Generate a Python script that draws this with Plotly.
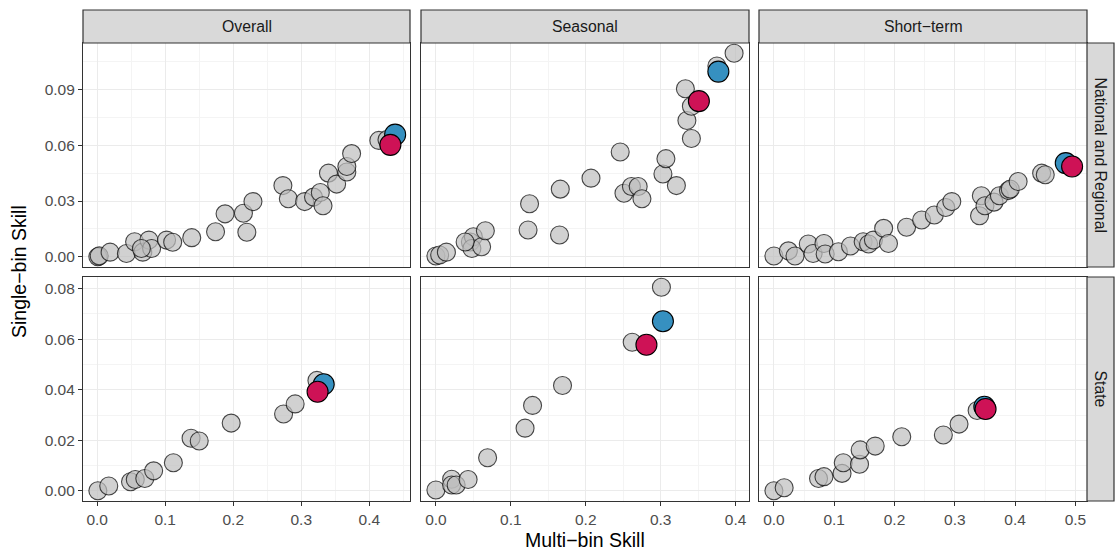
import plotly.graph_objects as go

W, H = 1116, 554

col_labels = ["Overall", "Seasonal", "Short\u2212term"]
row_labels = ["National and Regional", "State"]

# ---- grey points (Multi-bin skill, Single-bin skill) ----
overall_nr_multi = [0.001, 0.003, 0.019, 0.043, 0.055, 0.067, 0.076, 0.080, 0.065, 0.102, 0.111, 0.139, 0.174, 0.188, 0.215,
                    0.220, 0.229, 0.273, 0.281, 0.305, 0.318, 0.328, 0.332, 0.340, 0.352, 0.367, 0.367, 0.374, 0.414, 0.426]
overall_nr_single = [0.000, 0.0005, 0.0025, 0.0018, 0.0081, 0.0025, 0.0090, 0.0045, 0.0045, 0.0090, 0.0078, 0.0103, 0.0135, 0.0231, 0.0234,
                     0.0132, 0.0297, 0.0383, 0.0312, 0.0297, 0.0321, 0.0346, 0.0275, 0.0450, 0.0391, 0.0456, 0.0486, 0.0555, 0.0626, 0.0630]

seasonal_nr_multi = [0.000, 0.005, 0.014, 0.046, 0.050, 0.048, 0.061, 0.066, 0.039, 0.125, 0.123, 0.166, 0.165, 0.207, 0.246,
                     0.251, 0.261, 0.270, 0.275, 0.303, 0.307, 0.321, 0.341, 0.335, 0.333, 0.341, 0.375, 0.398]
seasonal_nr_single = [0.0004, 0.0010, 0.0025, 0.0080, 0.0108, 0.0045, 0.0054, 0.0140, 0.0080, 0.0285, 0.0144, 0.0364, 0.0117, 0.0423, 0.0564,
                      0.0342, 0.0378, 0.0378, 0.0312, 0.0445, 0.0528, 0.0383, 0.0636, 0.0733, 0.0904, 0.0810, 0.1026, 0.1095]

shortterm_nr_multi = [0.000, 0.024, 0.035, 0.057, 0.065, 0.083, 0.085, 0.107, 0.127, 0.148, 0.157, 0.165, 0.182, 0.190, 0.220,
                      0.245, 0.266, 0.285, 0.295, 0.341, 0.344, 0.350, 0.365, 0.374, 0.389, 0.392, 0.405, 0.444, 0.450]
shortterm_nr_single = [0.0004, 0.0032, 0.0004, 0.0069, 0.0018, 0.0072, 0.0015, 0.0027, 0.0058, 0.0081, 0.0069, 0.0090, 0.0153, 0.0072, 0.0159,
                       0.0198, 0.0225, 0.0265, 0.0297, 0.0221, 0.0328, 0.0275, 0.0294, 0.0328, 0.0356, 0.0364, 0.0405, 0.0450, 0.0441]

overall_state_multi = [0.001, 0.017, 0.049, 0.056, 0.070, 0.083, 0.112, 0.138, 0.150, 0.197, 0.274, 0.291, 0.323]
overall_state_single = [0.0000, 0.0019, 0.0036, 0.0045, 0.0049, 0.0079, 0.0111, 0.0208, 0.0197, 0.0268, 0.0304, 0.0344, 0.0437]

seasonal_state_multi = [0.000, 0.021, 0.021, 0.027, 0.043, 0.069, 0.119, 0.129, 0.169, 0.262, 0.301]
seasonal_state_single = [0.0003, 0.0046, 0.0023, 0.0023, 0.0045, 0.0131, 0.0248, 0.0338, 0.0417, 0.0588, 0.0806]

shortterm_state_multi = [0.000, 0.017, 0.074, 0.083, 0.113, 0.115, 0.142, 0.143, 0.168, 0.212, 0.281, 0.307, 0.337]
shortterm_state_single = [0.0000, 0.0012, 0.0049, 0.0056, 0.0069, 0.0111, 0.0105, 0.0162, 0.0177, 0.0214, 0.0221, 0.0264, 0.0318]

# ---- highlighted points, panel order: NR-Overall, NR-Seasonal, NR-Short, State-Overall, State-Seasonal, State-Short ----
blue_multi = [0.438, 0.377, 0.484, 0.333, 0.303, 0.349]
blue_single = [0.0657, 0.0996, 0.0504, 0.0422, 0.0671, 0.0333]
magenta_multi = [0.431, 0.351, 0.4945, 0.324, 0.281, 0.351]
magenta_single = [0.0602, 0.0837, 0.0486, 0.0392, 0.0578, 0.0324]

grey_multi = [overall_nr_multi, seasonal_nr_multi, shortterm_nr_multi,
              overall_state_multi, seasonal_state_multi, shortterm_state_multi]
grey_single = [overall_nr_single, seasonal_nr_single, shortterm_nr_single,
               overall_state_single, seasonal_state_single, shortterm_state_single]

x_major = [0.1, 0.1, 0.1]
y_major = [0.03, 0.02]

# pixel layout
col_px = [(83, 410), (421, 749), (759, 1087)]
row_px = [(43, 267), (277, 501)]
strip_top = (10, 43)
strip_right = (1087, 1114)

FONT = "Liberation Sans, Arial, Helvetica, sans-serif"
BORDER = "#333333"
TICK_SIZE = 15.5

def expand(vals):
    lo, hi = min(vals), max(vals)
    d = (hi - lo) * 0.05
    return [lo - d, hi + d]

x_ranges = []
for c in range(3):
    v = []
    for r in range(2):
        k = r * 3 + c
        v += grey_multi[k] + [blue_multi[k], magenta_multi[k]]
    x_ranges.append(expand(v))
y_ranges = []
for r in range(2):
    v = []
    for c in range(3):
        k = r * 3 + c
        v += grey_single[k] + [blue_single[k], magenta_single[k]]
    y_ranges.append(expand(v))

fig = go.Figure()
layout = {}
for r in range(2):
    for c in range(3):
        k = r * 3 + c
        idx = k + 1
        xa = "x" if idx == 1 else f"x{idx}"
        ya = "y" if idx == 1 else f"y{idx}"
        fig.add_trace(go.Scatter(
            x=grey_multi[k], y=grey_single[k], mode="markers", xaxis=xa, yaxis=ya,
            marker=dict(size=18, color="rgba(190,190,190,0.7)",
                        line=dict(color="rgba(0,0,0,0.7)", width=1.1)),
            showlegend=False, hoverinfo="skip"))
        fig.add_trace(go.Scatter(
            x=[blue_multi[k]], y=[blue_single[k]], mode="markers", xaxis=xa, yaxis=ya,
            marker=dict(size=21, color="#3690c0", line=dict(color="black", width=1.1)),
            showlegend=False, hoverinfo="skip"))
        fig.add_trace(go.Scatter(
            x=[magenta_multi[k]], y=[magenta_single[k]], mode="markers", xaxis=xa, yaxis=ya,
            marker=dict(size=21, color="#ce1256", line=dict(color="black", width=1.1)),
            showlegend=False, hoverinfo="skip"))

        x0, x1 = col_px[c]
        y0, y1 = row_px[r]
        xkey = "xaxis" if idx == 1 else f"xaxis{idx}"
        ykey = "yaxis" if idx == 1 else f"yaxis{idx}"
        bottom = (r == 1)
        left = (c == 0)
        layout[xkey] = dict(
            domain=[x0 / W, x1 / W], anchor=ya, range=x_ranges[c],
            tick0=0, dtick=x_major[c], showgrid=True, gridcolor="#ebebeb", gridwidth=1.1,
            minor=dict(tick0=0, dtick=x_major[c] / 2, showgrid=True, gridcolor="#f4f4f4", gridwidth=0.6, ticks=""),
            zeroline=False, showline=True, mirror=True, linecolor=BORDER, linewidth=1.2,
            ticks="outside" if bottom else "", ticklen=4, tickcolor=BORDER, tickwidth=1.1,
            showticklabels=bottom, tickformat=".1f",
            tickfont=dict(family=FONT, size=TICK_SIZE, color="#4d4d4d"))
        layout[ykey] = dict(
            domain=[1 - y1 / H, 1 - y0 / H], anchor=xa, range=y_ranges[r],
            tick0=0, dtick=y_major[r], showgrid=True, gridcolor="#ebebeb", gridwidth=1.1,
            minor=dict(tick0=0, dtick=y_major[r] / 2, showgrid=True, gridcolor="#f4f4f4", gridwidth=0.6, ticks=""),
            zeroline=False, showline=True, mirror=True, linecolor=BORDER, linewidth=1.2,
            ticks="outside" if left else "", ticklen=4, tickcolor=BORDER, tickwidth=1.1,
            showticklabels=left, tickformat=".2f",
            tickfont=dict(family=FONT, size=TICK_SIZE, color="#4d4d4d"))

shapes = []
annotations = []
for c in range(3):
    x0, x1 = col_px[c]
    shapes.append(dict(type="rect", xref="paper", yref="paper",
                       x0=x0 / W, x1=x1 / W, y0=1 - strip_top[1] / H, y1=1 - strip_top[0] / H,
                       fillcolor="#d9d9d9", line=dict(color=BORDER, width=1.2), layer="above"))
    annotations.append(dict(text=col_labels[c], xref="paper", yref="paper",
                            x=(x0 + x1) / 2 / W, y=1 - (strip_top[0] + strip_top[1]) / 2 / H,
                            showarrow=False, xanchor="center", yanchor="middle",
                            font=dict(family=FONT, size=15.8, color="#1a1a1a")))
for r in range(2):
    y0, y1 = row_px[r]
    shapes.append(dict(type="rect", xref="paper", yref="paper",
                       x0=strip_right[0] / W, x1=strip_right[1] / W, y0=1 - y1 / H, y1=1 - y0 / H,
                       fillcolor="#d9d9d9", line=dict(color=BORDER, width=1.2), layer="above"))
    annotations.append(dict(text=row_labels[r], xref="paper", yref="paper",
                            x=(strip_right[0] + strip_right[1]) / 2 / W, y=1 - (y0 + y1) / 2 / H,
                            showarrow=False, xanchor="center", yanchor="middle", textangle=90,
                            font=dict(family=FONT, size=15.8, color="#1a1a1a")))

annotations.append(dict(text="Multi\u2212bin Skill", xref="paper", yref="paper",
                        x=(col_px[0][0] + col_px[2][1]) / 2 / W, y=1 - 540 / H,
                        showarrow=False, xanchor="center", yanchor="middle",
                        font=dict(family=FONT, size=19.5, color="black")))
annotations.append(dict(text="Single\u2212bin Skill", xref="paper", yref="paper",
                        x=19 / W, y=1 - (row_px[0][0] + row_px[1][1]) / 2 / H,
                        showarrow=False, xanchor="center", yanchor="middle", textangle=-90,
                        font=dict(family=FONT, size=19.5, color="black")))

fig.update_layout(width=W, height=H, autosize=False,
                  margin=dict(l=0, r=0, t=0, b=0),
                  paper_bgcolor="white", plot_bgcolor="white",
                  shapes=shapes, annotations=annotations, **layout)

fig.write_html("out.html")
